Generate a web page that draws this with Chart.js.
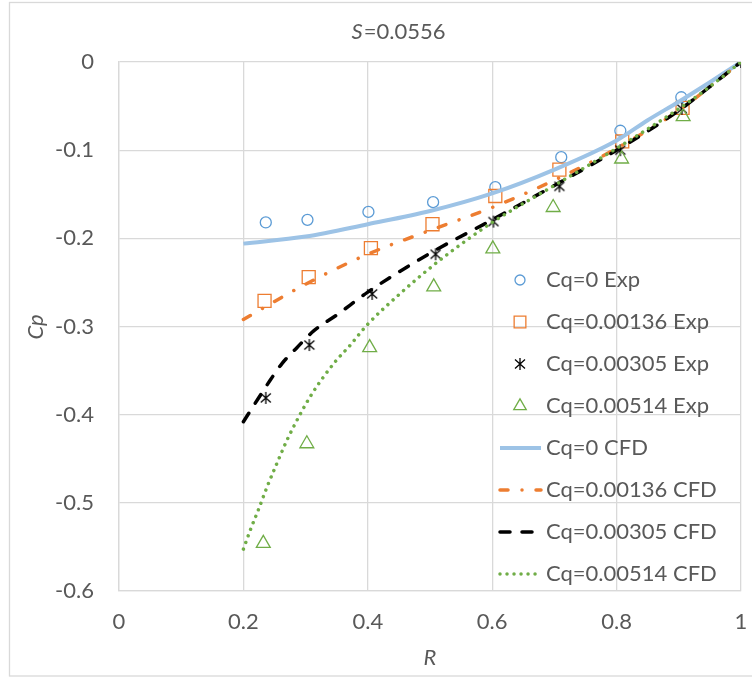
<!DOCTYPE html>
<html>
<head>
<meta charset="utf-8">
<script src="https://cdn.jsdelivr.net/npm/chart.js@4.4.1/dist/chart.umd.min.js"></script>
<style>
  html, body { margin: 0; padding: 0; background: #ffffff; }
  #wrap { position: relative; width: 752px; height: 677px; }
</style>
</head>
<body>
<div id="wrap"><canvas id="c" width="752" height="677"></canvas></div>
<script>
// ---- text ----
const titleItalic = 'S';
const titleRest = '=0.0556';
const xTitle = 'R';
const yTitle = 'Cp';
const xTicks = [0, 0.2, 0.4, 0.6, 0.8, 1];
const xTickLabels = ['0', '0.2', '0.4', '0.6', '0.8', '1'];
const yTicks = [0, -0.1, -0.2, -0.3, -0.4, -0.5, -0.6];
const yTickLabels = ['0', '-0.1', '-0.2', '-0.3', '-0.4', '-0.5', '-0.6'];
const seriesNames = [
  'Cq=0 Exp', 'Cq=0.00136 Exp', 'Cq=0.00305 Exp', 'Cq=0.00514 Exp',
  'Cq=0 CFD', 'Cq=0.00136 CFD', 'Cq=0.00305 CFD', 'Cq=0.00514 CFD'
];

// ---- experimental points ----
const rExp0 = [0.236, 0.303, 0.401, 0.505, 0.605, 0.711, 0.806, 0.904];
const cpExp0 = [-0.182, -0.179, -0.170, -0.159, -0.142, -0.108, -0.078, -0.040];
const rExp136 = [0.234, 0.305, 0.405, 0.504, 0.605, 0.708, 0.809, 0.906];
const cpExp136 = [-0.271, -0.244, -0.211, -0.184, -0.152, -0.122, -0.090, -0.052];
const rExp305 = [0.236, 0.306, 0.407, 0.509, 0.602, 0.708, 0.806, 0.905, 1.0];
const cpExp305 = [-0.381, -0.321, -0.263, -0.218, -0.181, -0.141, -0.100, -0.053, 0.0];
const rExp514 = [0.232, 0.302, 0.403, 0.506, 0.601, 0.698, 0.808, 0.907];
const cpExp514 = [-0.546, -0.433, -0.324, -0.255, -0.212, -0.165, -0.110, -0.062];

// ---- CFD curves ----
const rCfd0 = [0.2, 0.3, 0.4, 0.5, 0.6, 0.7, 0.8, 0.85, 0.9, 0.95, 1.0];
const cpCfd0 = [-0.206, -0.198, -0.184, -0.169, -0.149, -0.122, -0.089, -0.066, -0.045, -0.023, 0.0];
const rCfd136 = [0.2, 0.3, 0.4, 0.5, 0.6, 0.7, 0.8, 0.9, 0.95, 1.0];
const cpCfd136 = [-0.292, -0.252, -0.218, -0.191, -0.165, -0.134, -0.098, -0.055, -0.028, 0.0];
const rCfd305 = [0.2, 0.219, 0.243, 0.262, 0.286, 0.313, 0.35, 0.4, 0.5, 0.6, 0.7, 0.8, 0.9, 0.95, 1.0];
const cpCfd305 = [-0.408, -0.387, -0.361, -0.342, -0.324, -0.305, -0.287, -0.261, -0.217, -0.179, -0.140, -0.100, -0.055, -0.028, 0.0];
const rCfd514 = [0.2, 0.211, 0.224, 0.238, 0.254, 0.27, 0.289, 0.307, 0.329, 0.35, 0.372, 0.3985, 0.452, 0.5055, 0.559, 0.602, 0.7, 0.8, 0.9, 0.95, 1.0];
const cpCfd514 = [-0.5525, -0.531, -0.508, -0.482, -0.455, -0.429, -0.4025, -0.380, -0.357, -0.338, -0.321, -0.2985, -0.2626, -0.2305, -0.202, -0.181, -0.140, -0.098, -0.053, -0.028, 0.0];

// ---- look ----
const FONT = 'Lato';
const TEXT = '#595959';
const GRID = '#D9D9D9';

// size the font so a legend entry spans the same width as the original Calibri text
const probe = document.createElement('canvas').getContext('2d');
probe.font = '100px ' + FONT;
const FS = Math.round(100 * 163 / probe.measureText('Cq=0.00305 Exp').width * 10) / 10;

Chart.defaults.font.family = FONT;
Chart.defaults.font.size = FS;
Chart.defaults.color = TEXT;

function pairs(xs, ys) { return xs.map((x, i) => ({ x: x, y: ys[i] })); }

// Excel-style asterisk marker: an X with a vertical stroke
function asteriskMarker(size, color, lw) {
  const c = document.createElement('canvas');
  c.width = size; c.height = size;
  const g = c.getContext('2d');
  g.strokeStyle = color; g.lineWidth = lw;
  const m = 1.5, h = size / 2;
  g.beginPath();
  g.moveTo(m + 0.5, m + 1); g.lineTo(size - m - 0.5, size - m - 1);
  g.moveTo(size - m - 0.5, m + 1); g.lineTo(m + 0.5, size - m - 1);
  g.moveTo(h, m - 0.5); g.lineTo(h, size - m + 0.5);
  g.stroke();
  return c;
}
const star = asteriskMarker(14, '#000000', 1.3);

const expStyle = (color, style, r) => ({
  showLine: false, pointStyle: style, pointRadius: r, pointHoverRadius: r,
  borderColor: color, backgroundColor: 'rgba(0,0,0,0)', borderWidth: 1.3
});
const cfdStyle = (color, width, dash, cap) => ({
  showLine: true, pointRadius: 0, pointHoverRadius: 0, borderColor: color,
  backgroundColor: color, borderWidth: width, borderDash: dash, borderCapStyle: cap,
  cubicInterpolationMode: 'monotone', fill: false
});

const datasets = [
  Object.assign({ label: seriesNames[0], data: pairs(rExp0, cpExp0) }, expStyle('#5B9BD5', 'circle', 5.5)),
  Object.assign({ label: seriesNames[1], data: pairs(rExp136, cpExp136) }, expStyle('#ED7D31', 'rect', 9.2)),
  Object.assign({ label: seriesNames[2], data: pairs(rExp305, cpExp305) }, expStyle('#000000', star, 7)),
  Object.assign({ label: seriesNames[3], data: pairs(rExp514, cpExp514) }, expStyle('#70AD47', 'triangle', 8)),
  Object.assign({ label: seriesNames[4], data: pairs(rCfd0, cpCfd0) }, cfdStyle('#9DC3E6', 4, [], 'butt')),
  Object.assign({ label: seriesNames[5], data: pairs(rCfd136, cpCfd136) }, cfdStyle('#ED7D31', 3.5, [8, 14, 0.01, 14], 'round')),
  Object.assign({ label: seriesNames[6], data: pairs(rCfd305, cpCfd305) }, cfdStyle('#000000', 3.5, [10, 12], 'round')),
  Object.assign({ label: seriesNames[7], data: pairs(rCfd514, cpCfd514) }, cfdStyle('#70AD47', 3.5, [0.01, 7], 'round'))
];
// later series are painted above earlier ones
datasets.forEach((d, i) => { d.order = datasets.length - i; });

const decor = {
  id: 'decor',
  beforeDraw(chart) {
    const ctx = chart.ctx;
    ctx.save();
    ctx.fillStyle = '#ffffff';
    ctx.fillRect(0, 0, chart.width, chart.height);
    ctx.strokeStyle = GRID; ctx.lineWidth = 1.3;
    ctx.strokeRect(9.5, 2.5, 780, 673.5);
    ctx.restore();
  },
  afterDraw(chart) {
    const ctx = chart.ctx;
    const area = chart.chartArea;
    ctx.save();
    ctx.fillStyle = TEXT;
    ctx.textBaseline = 'middle';

    // title with italic S
    ctx.font = 'italic ' + FS + 'px ' + FONT;
    const w1 = ctx.measureText(titleItalic).width;
    ctx.font = FS + 'px ' + FONT;
    const w2 = ctx.measureText(titleRest).width;
    let tx = 398 - (w1 + w2) / 2;
    ctx.textAlign = 'left';
    ctx.font = 'italic ' + FS + 'px ' + FONT;
    ctx.fillText(titleItalic, tx, 32);
    ctx.font = FS + 'px ' + FONT;
    ctx.fillText(titleRest, tx + w1 + 1, 32);

    // axis titles
    ctx.font = 'italic ' + FS + 'px ' + FONT;
    ctx.textAlign = 'center';
    ctx.fillText(xTitle, (area.left + area.right) / 2, 658);
    ctx.save();
    ctx.translate(36, 327);
    ctx.rotate(-Math.PI / 2);
    ctx.fillText(yTitle, 0, 0);
    ctx.restore();

    // legend inside the plot, right side
    ctx.font = FS + 'px ' + FONT;
    ctx.textAlign = 'left';
    chart.data.datasets.forEach((ds, i) => {
      const y = 280 + i * 42;
      ctx.save();
      ctx.strokeStyle = ds.borderColor;
      ctx.lineWidth = ds.borderWidth;
      if (ds.showLine) {
        ctx.setLineDash(ds.borderDash || []);
        ctx.lineCap = ds.borderCapStyle || 'butt';
        ctx.beginPath();
        ctx.moveTo(500, y); ctx.lineTo(541, y);
        ctx.stroke();
      } else {
        ctx.fillStyle = 'rgba(0,0,0,0)';
        Chart.helpers.drawPoint(ctx, {
          pointStyle: ds.pointStyle, radius: ds.pointStyle === 'circle' ? 5 : ds.pointRadius * 0.9,
          borderWidth: ds.borderWidth, rotation: 0
        }, 520, y);
      }
      ctx.restore();
      ctx.fillStyle = TEXT;
      ctx.fillText(ds.label, 546, y);
    });
    ctx.restore();
  }
};

new Chart(document.getElementById('c'), {
  type: 'scatter',
  data: { datasets: datasets },
  options: {
    responsive: false,
    animation: false,
    devicePixelRatio: 1,
    layout: { autoPadding: false, padding: { left: 0, right: 11, top: 62, bottom: 0 } },
    plugins: {
      legend: { display: false },
      title: { display: false },
      tooltip: { enabled: false }
    },
    scales: {
      x: {
        type: 'linear', min: 0, max: 1,
        afterBuildTicks: s => { s.ticks = xTicks.map(v => ({ value: v })); },
        afterFit: s => { s.height = 86; s.paddingLeft = 0; s.paddingRight = 0; },
        grid: { color: GRID, lineWidth: 1.3, drawTicks: false },
        border: { color: GRID, width: 1.3 },
        ticks: {
          padding: 18, color: TEXT, maxRotation: 0, autoSkip: false,
          callback: v => xTickLabels[xTicks.findIndex(t => Math.abs(t - v) < 1e-9)]
        }
      },
      y: {
        type: 'linear', min: -0.6, max: 0,
        afterBuildTicks: s => { s.ticks = yTicks.map(v => ({ value: v })); },
        afterFit: s => { s.width = 119; s.paddingTop = 0; s.paddingBottom = 0; },
        grid: { color: GRID, lineWidth: 1.3, drawTicks: false },
        border: { color: GRID, width: 1.3 },
        ticks: {
          padding: 25, color: TEXT, autoSkip: false,
          callback: v => yTickLabels[yTicks.findIndex(t => Math.abs(t - v) < 1e-9)]
        }
      }
    }
  },
  plugins: [decor]
});
</script>
</body>
</html>
